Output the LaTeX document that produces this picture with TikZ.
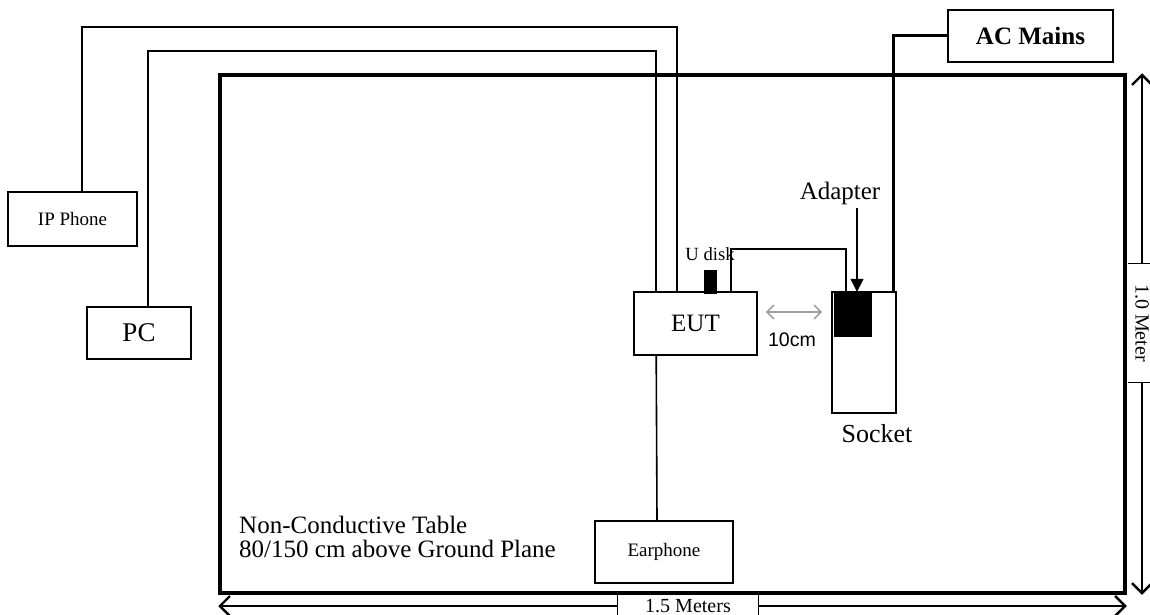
\documentclass[tikz,border=0pt]{standalone}
\usepackage{fontspec}
\setmainfont{Liberation Serif}
\newfontfamily\arialfont{Liberation Sans}
\usetikzlibrary{arrows.meta,positioning}
\definecolor{GapGray}{RGB}{160,160,160}
\newcommand{\fsz}[1]{\fontsize{#1}{#1}\selectfont}

\begin{document}
\begin{tikzpicture}[x=1pt,y=-1pt,
  box/.style={draw,line width=1.6pt,inner sep=0pt},
  blk/.style={fill=black,inner sep=0pt},
  wire/.style={line width=1.6pt},
  dimarrow/.style={line width=1.2pt,-{Straight Barb[length=10pt,width=20pt,line width=2.4pt]}},
  gaparrow/.style={draw=GapGray,line width=1.4pt,{Straight Barb[length=7pt,width=14pt,line width=1.6pt]}-{Straight Barb[length=7pt,width=14pt,line width=1.6pt]}}]
\useasboundingbox (0,0) rectangle (1150,615);
% table
\node[draw,line width=3.5pt,minimum width=905pt,minimum height=518pt] (table) at (672.5,334) {};
% equipment
\node[box,minimum width=129pt,minimum height=54pt,font=\fsz{19}] (ipphone) at (72.5,219) {IP Phone};
\node[box,minimum width=104pt,minimum height=52pt,font=\fsz{27}] (pc) at (139,333) {PC};
\node[box,minimum width=123pt,minimum height=63pt,font=\fsz{25}] (eut) at (695.5,323.5) {EUT};
\node[box,minimum width=64pt,minimum height=121pt] (socket) at (864,352.5) {};
\node[box,minimum width=165pt,minimum height=52pt,font=\bfseries\fsz{25}] (acmains) at (1030.5,36) {AC Mains};
\node[box,minimum width=138pt,minimum height=62pt,font=\fsz{19}] (earphone) at (664,552) {Earphone};
\node[blk,minimum width=13pt,minimum height=24pt] (udisk) at (710.5,282) {};
\node[blk,minimum width=38pt,minimum height=45pt] (adapter) at (853,314.5) {};
% labels
\node[font=\fsz{18.6}] (udisklbl) at (710,254) {U disk};
\node[font=\fsz{25}] (adapterlbl) at (840,193.5) {Adapter};
\node[font=\fsz{26}] (socketlbl) at (877,434) {Socket};
\node[font=\arialfont\fsz{19.6}] (gaplbl) at (792,340) {10cm};
\node[font=\fsz{25},anchor=base west,inner sep=0pt] (tbl1) at (239,533) {Non-Conductive Table};
\node[font=\fsz{25},anchor=base west,inner sep=0pt] (tbl2) at (239,557) {80/150 cm above Ground Plane};
% dimensions
\node[font=\fsz{20},minimum width=140pt,minimum height=22pt,inner sep=0pt] (lenlbl) at (688,606) {1.5 Meters};
\node[font=\fsz{20},minimum width=118pt,minimum height=28pt,inner sep=0pt,rotate=-90] (widlbl) at (1142,323) {1.0 Meter};
\draw[line width=1.2pt] (lenlbl.north west) -- (lenlbl.south west) (lenlbl.north east) -- (lenlbl.south east);
\draw[line width=1.2pt] (widlbl.north west) -- (widlbl.south west) (widlbl.north east) -- (widlbl.south east);
\draw[dimarrow] (lenlbl.west) -- (lenlbl.west -| table.west);
\draw[dimarrow] (lenlbl.east) -- (lenlbl.east -| table.east);
\draw[dimarrow] (widlbl.west) -- (widlbl.west |- table.north);
\draw[dimarrow] (widlbl.east) -- (widlbl.east |- lenlbl.north);
% cables
\draw[wire] ([xshift=9.5pt]ipphone.north) -- ++(0,-164) -| ([xshift=44pt]eut.north west);
\draw[wire] ([xshift=9pt]pc.north) -- ++(0,-255) -| ([xshift=23pt]eut.north west);
\draw[wire] ([xshift=23pt]eut.south west) -- ([xshift=-7pt]earphone.north);
\draw[wire] ([xshift=98pt]eut.north west) -- ++(0,-42) -| ([xshift=-7pt]adapter.north);
\draw[line width=3pt] ([xshift=29pt]socket.north) |- (acmains.west);
\draw[line width=1.4pt,-{Triangle[length=13pt,width=13pt]}] ([xshift=17pt]adapterlbl.south) -- ([xshift=4pt]adapter.north);
\draw[gaparrow] ([shift={(8pt,11.5pt)}]eut.east) -- ([shift={(-9pt,40.5pt)}]socket.west);
\end{tikzpicture}
\end{document}
